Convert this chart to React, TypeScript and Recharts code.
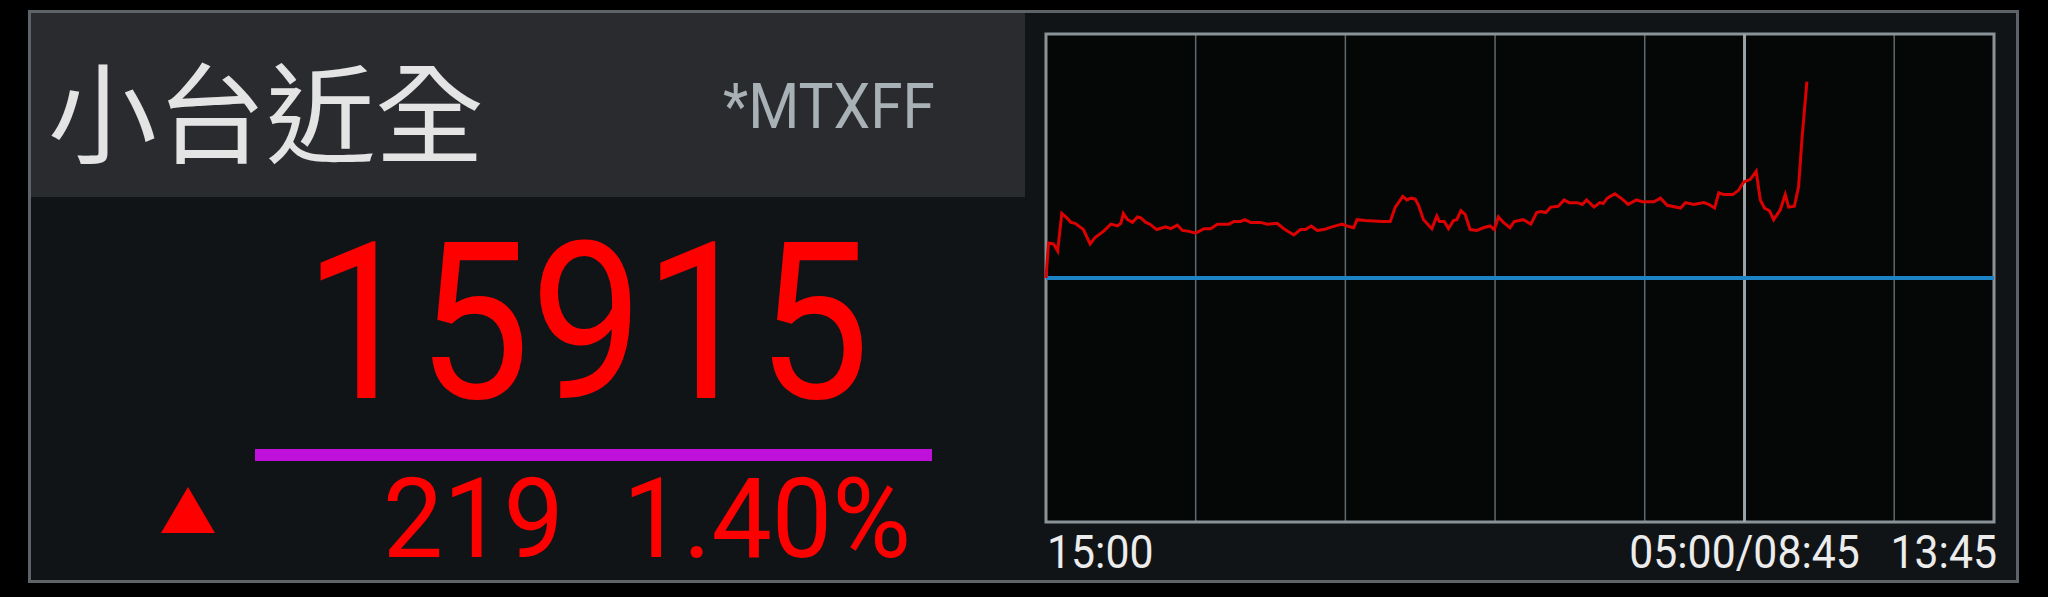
import React from "react";
import { LineChart, Line, XAxis, YAxis, CartesianGrid, ReferenceLine, ReferenceArea } from "recharts";

// minutes since 15:00 (night session 15:00-05:00, then day session 08:45-13:45)
const mins = [
  0, 3, 9, 14, 19, 25, 30, 35, 45, 53, 59, 69, 78, 86, 90, 93, 98, 104, 110, 114,
  120, 125, 133, 144, 150, 158, 164, 172, 180, 190, 198, 206, 220, 226, 234, 239, 246, 258, 266, 278,
  286, 298, 306, 312, 319, 326, 334, 344, 356, 362, 370, 374, 384, 404, 414, 420, 429, 434, 439, 444,
  448, 454, 464, 470, 473, 479, 484, 490, 494, 499, 504, 510, 518, 526, 534, 539, 544, 550, 558, 563,
  574, 583, 590, 595, 601, 607, 616, 623, 629, 639, 645, 650, 659, 666, 670, 675, 684, 693, 700, 710,
  717, 731, 739, 747, 763, 769, 779, 791, 797, 804, 809, 815, 826, 833, 839, 847, 854, 859, 864, 870,
  875, 883, 889, 893, 900, 905, 909, 915,
];
const prices = [
  15696, 15735, 15734, 15726, 15768, 15763, 15758, 15757, 15750, 15734, 15741, 15748, 15756, 15754, 15757, 15768, 15761, 15758, 15764, 15763,
  15758, 15756, 15750, 15753, 15751, 15755, 15749, 15748, 15746, 15751, 15751, 15756, 15756, 15759, 15759, 15761, 15758, 15758, 15756, 15757,
  15751, 15744, 15750, 15750, 15754, 15749, 15750, 15753, 15756, 15754, 15752, 15761, 15760, 15759, 15759, 15775, 15787, 15783, 15785, 15784,
  15777, 15761, 15751, 15765, 15759, 15759, 15751, 15760, 15761, 15771, 15767, 15750, 15749, 15752, 15754, 15750, 15764, 15758, 15752, 15759,
  15761, 15756, 15769, 15770, 15769, 15775, 15776, 15783, 15780, 15780, 15778, 15783, 15775, 15780, 15779, 15785, 15790, 15784, 15778, 15783,
  15781, 15781, 15785, 15777, 15774, 15780, 15778, 15780, 15778, 15774, 15791, 15789, 15789, 15794, 15803, 15806, 15815, 15783, 15774, 15771,
  15761, 15772, 15789, 15775, 15776, 15798, 15850, 15915,
];

const tickMins = [0, 180, 360, 540, 720, 840, 1020, 1140];
const tickLabels = ["15:00", "", "", "", "", "05:00/08:45", "", "13:45"];
const sessionBreak = 840;

const title = "小台近全";
const symbol = "*MTXFF";
const lastPrice = "15915";
const prevClose = 15696;
const change = "219";
const changePct = "1.40%";
const yRange: [number, number] = [15424, 15968];

const data = mins.map((t, i) => ({ t, price: prices[i] }));

const latin = "Roboto, 'Noto Sans', sans-serif";

const TimeTick = (props: any) => {
  const { x, y, payload } = props;
  const idx = tickMins.indexOf(payload.value);
  const label = tickLabels[idx];
  if (!label) return null;
  const anchor = idx === 0 ? "start" : idx === tickMins.length - 1 ? "end" : "middle";
  const dx = idx === tickMins.length - 1 ? 3 : idx === 0 ? 1 : 0;
  return (
    <text
      transform={`translate(${x + dx},${y + 46}) scale(0.93,1)`}
      textAnchor={anchor}
      fontSize={46}
      fontFamily={latin}
      fill="#ececec"
    >
      {label}
    </text>
  );
};

export default function App() {
  return (
    <div style={{ position: "absolute", left: 0, top: 0, width: 2048, height: 597, background: "#000", overflow: "hidden" }}>
      <div
        style={{
          position: "absolute",
          left: 28,
          top: 10,
          width: 1991,
          height: 573,
          boxSizing: "border-box",
          border: "3px solid #5e6367",
          background: "#111417",
        }}
      />
      <div style={{ position: "absolute", left: 31, top: 13, width: 994, height: 184, background: "#2a2b2e" }} />

      <svg style={{ position: "absolute", left: 0, top: 0 }} width={1030} height={597}>
        <text x={48} y={155} fontSize={109} fill="#e4e4e4" fontFamily="'Noto Sans CJK TC', sans-serif">
          {title}
        </text>
        <text transform="translate(723,128) scale(0.93,1)" fontSize={63} fill="#a8b1b5" fontFamily={latin}>
          {symbol}
        </text>
        <text transform="translate(870,398) scale(0.92,1)" textAnchor="end" fontSize={219} fill="#ff0000" fontFamily={latin}>
          {lastPrice}
        </text>
        <rect x={255} y={449} width={677} height={12} fill="#bf10dc" />
        <polygon points="161,533 215,533 188,487" fill="#ff0000" />
        <text transform="translate(564,557) scale(0.96,1)" textAnchor="end" fontSize={112} fill="#ff0000" fontFamily={latin}>
          {change}
        </text>
        <text transform="translate(911,557) scale(0.96,1)" textAnchor="end" fontSize={112} fill="#ff0000" fontFamily={latin}>
          {changePct}
        </text>
      </svg>

      <div style={{ position: "absolute", left: 1030, top: 20 }}>
        <LineChart width={990} height={560} data={data} margin={{ top: 14, right: 26, bottom: 8, left: 16 }}>
          <CartesianGrid horizontal={false} stroke="#5f686c" strokeWidth={1.5} fill="#050707" />
          <XAxis
            dataKey="t"
            type="number"
            domain={[0, 1140]}
            ticks={tickMins}
            interval={0}
            axisLine={false}
            tickLine={false}
            tickSize={0}
            tickMargin={0}
            height={50}
            tick={<TimeTick />}
          />
          <YAxis hide domain={yRange} type="number" />
          <ReferenceLine x={sessionBreak} stroke="#9aa4a8" strokeWidth={3} />
          <ReferenceLine y={prevClose} stroke="#1c84c6" strokeWidth={4} />
          <Line
            type="linear"
            dataKey="price"
            stroke="#dd0000"
            strokeWidth={3}
            dot={false}
            isAnimationActive={false}
          />
          <ReferenceArea x1={0} x2={1140} y1={yRange[0]} y2={yRange[1]} fill="none" stroke="#8a9498" strokeWidth={3} />
        </LineChart>
      </div>
    </div>
  );
}
